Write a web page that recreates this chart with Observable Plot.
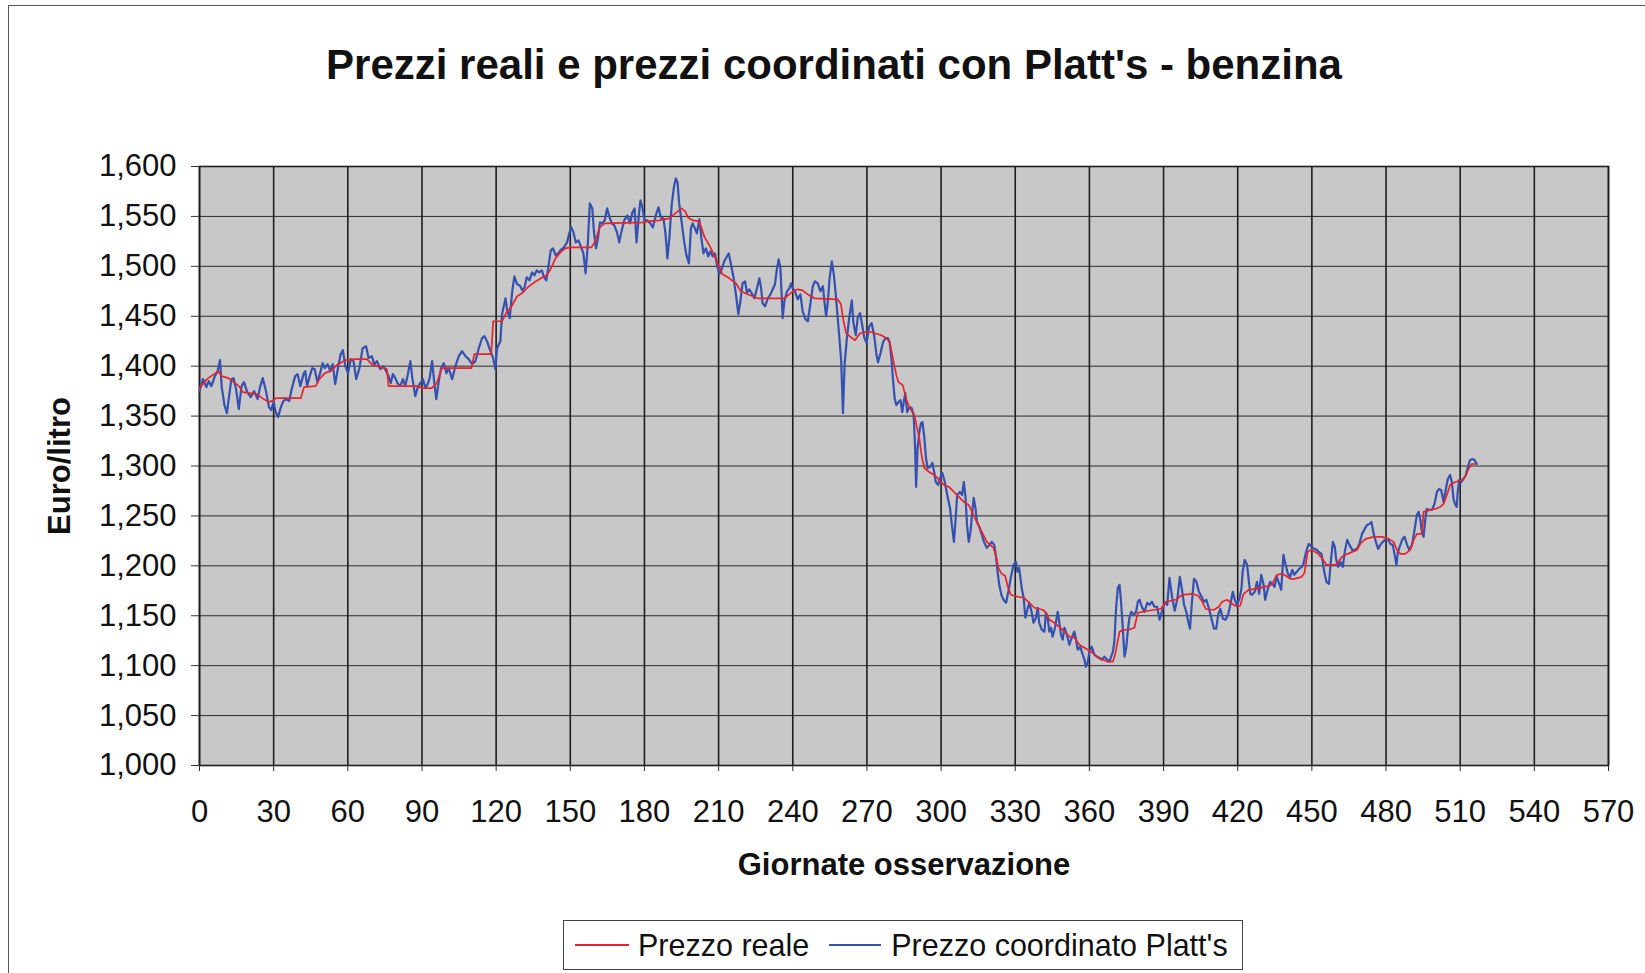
<!DOCTYPE html>
<html>
<head>
<meta charset="utf-8">
<script src="https://cdn.jsdelivr.net/npm/d3@7"></script>
<script src="https://cdn.jsdelivr.net/npm/@observablehq/plot@0.6"></script>
<style>
  html, body { margin: 0; padding: 0; background: #fff; }
  #page { position: relative; width: 1645px; height: 973px; overflow: hidden; font-family: "Liberation Sans", Arial, sans-serif; color: #111; }
  #border { position: absolute; left: 8px; top: 5px; width: 1700px; height: 1000px; border: 1.5px solid #555; box-sizing: border-box; }
  #title { position: relative; width: 1668px; height: 120px; line-height: 130px; text-align: center; font-weight: bold; font-size: 42px; }
  #chart { position: relative; height: 780px; }
  #legend { position: relative; margin-top: 20px; margin-left: 563px; width: 680px; height: 50px; box-sizing: border-box; border: 1.5px solid #444; display: flex; align-items: center; font-size: 30.5px; background: #fff; }
  .sw { display: inline-block; height: 0; }
</style>
</head>
<body>
<div id="page">
  <div id="border"></div>
  <div id="title">Prezzi reali e prezzi coordinati con Platt's - benzina</div>
  <div id="chart"></div>
  <div id="legend">
    <span class="sw" style="margin-left:11px;width:54px;border-top:2px solid #e8232e;"></span>
    <span style="margin-left:9px;">Prezzo reale</span>
    <span class="sw" style="margin-left:20px;width:52px;border-top:2px solid #3551b0;"></span>
    <span style="margin-left:10px;">Prezzo coordinato Platt's</span>
  </div>
</div>
<script>
// Tick values
const xTicks = [0, 30, 60, 90, 120, 150, 180, 210, 240, 270, 300, 330, 360, 390, 420, 450, 480, 510, 540, 570];
const yTicks = [1.000, 1.050, 1.100, 1.150, 1.200, 1.250, 1.300, 1.350, 1.400, 1.450, 1.500, 1.550, 1.600];

// Series: Prezzo reale (red)
const realDays = [0,3,7.6,9,11.7,16,17.5,23,26,28,30,31,41,42.3,47,48.5,50.7,53,56,59,63,67.7,69.7,71.8,75.8,76.5,88,90,94,96,98,110,111.2,118,118.8,122.4,124.4,125.8,128.5,131,132.8,135.5,138.8,140.5,142,144,146,148,150,158.6,160,161.9,163.9,179.7,181,186,190,193,195,196.5,197.6,199.6,202.2,204.2,206.9,209.6,211.6,214.3,217,219,221.8,225.8,236.6,238.6,240,242,244,246,248.8,258.2,259.5,260.3,261.6,263,265.2,267.2,269.2,271.9,275.9,277.9,279.2,280.5,281.9,282.8,284.5,285.2,286.3,287.9,289.2,290.3,291.2,292.1,293.2,295.2,297.2,298.5,299.9,301.2,303.2,305.2,307.2,309.2,311.2,312.5,314.5,316.5,318.5,321.2,322.3,323.2,324.5,325.9,327,328.2,331,333.6,335.7,337.7,341.1,342.5,343.8,345.8,347.8,349.9,351.9,353.9,356,358,360.7,362.5,363.4,365.4,367.4,369.5,370.4,372.2,373.5,376,378.2,379.6,381.6,386.3,389,390.9,395,397.6,401.7,404,405.7,407,408.4,410.4,412.4,413.7,415.7,417.7,419.7,421,422.4,424.4,427.1,431.1,433.8,435.8,437.8,439.5,441.2,443,445.9,447,448.3,449.9,452.6,454.6,455.9,459.6,461,462.2,464.5,466.3,468.3,469.6,471.7,475,478.4,481,483.1,484.4,485.8,487.8,489.8,491.2,492.5,494.5,495.2,497.9,499.9,501.9,503.3,504.6,505.9,508,510.7,512,513.4,514.7,516];
const realPrices = [1.378,1.387,1.395,1.390,1.388,1.380,1.374,1.372,1.367,1.364,1.366,1.368,1.368,1.379,1.380,1.387,1.393,1.395,1.402,1.406,1.407,1.407,1.402,1.400,1.397,1.380,1.380,1.378,1.378,1.383,1.398,1.398,1.412,1.412,1.445,1.445,1.455,1.458,1.470,1.474,1.479,1.484,1.489,1.491,1.497,1.508,1.514,1.518,1.519,1.519,1.525,1.539,1.543,1.544,1.545,1.546,1.548,1.554,1.558,1.555,1.549,1.546,1.545,1.530,1.518,1.503,1.492,1.488,1.483,1.475,1.472,1.468,1.468,1.472,1.475,1.477,1.476,1.472,1.468,1.467,1.462,1.448,1.433,1.430,1.426,1.433,1.434,1.434,1.431,1.428,1.424,1.408,1.391,1.384,1.381,1.374,1.364,1.356,1.351,1.338,1.328,1.311,1.298,1.294,1.291,1.288,1.284,1.281,1.279,1.274,1.269,1.264,1.261,1.254,1.244,1.234,1.224,1.218,1.209,1.198,1.192,1.190,1.179,1.171,1.169,1.168,1.163,1.158,1.156,1.153,1.146,1.143,1.139,1.134,1.129,1.128,1.121,1.118,1.114,1.110,1.108,1.106,1.104,1.104,1.111,1.134,1.136,1.136,1.138,1.153,1.154,1.156,1.157,1.164,1.166,1.171,1.172,1.170,1.164,1.157,1.156,1.156,1.159,1.164,1.166,1.162,1.159,1.160,1.172,1.176,1.177,1.179,1.181,1.191,1.192,1.190,1.187,1.187,1.189,1.193,1.214,1.216,1.212,1.206,1.201,1.201,1.205,1.209,1.212,1.214,1.216,1.222,1.227,1.229,1.229,1.227,1.224,1.216,1.212,1.212,1.216,1.226,1.232,1.232,1.254,1.256,1.257,1.259,1.262,1.271,1.281,1.284,1.286,1.289,1.297,1.302,1.302];

// Series: Prezzo coordinato Platt's (blue)
const plattDays = [0,1.4,2.8,3.7,4.8,6.2,7.3,8.3,9,10.1,11.1,11.7,12.9,13.8,14.8,15.9,17,18,19.3,20.7,22.1,23.5,24.5,25.6,26.9,28.1,29,30,30.8,31.8,32.8,33.9,35,36.3,37.3,38.7,39.7,40.8,42.2,42.8,43.5,44.6,45.6,46.6,47.7,48.8,49.8,50.7,51.8,52.9,53.9,54.9,56,57.1,58,59,60.1,61.2,62.3,63.4,64.7,66,67.4,68.4,69.7,70.7,71.8,73.1,74.5,75.5,76.5,77.4,78.2,79.2,80.1,81.2,82.3,83.2,84.3,85.3,86.1,87.3,88.2,89.3,90.4,91.4,92.3,93.1,94.1,95,95.8,96.8,97.7,98.8,99.9,100.8,102.2,103.5,104.9,106.2,107.6,108.9,110.3,111.6,113,114.3,115.3,116.3,117.7,118.8,119.7,120.4,121.7,122.4,123.8,124.4,125.5,126.5,127.4,128.5,129.5,130.6,131.5,132.4,133.5,134.5,135.5,136.4,137.4,138.5,139.4,140.3,141.1,142.1,143,144.1,145.1,146,147.4,148.7,149.6,150.4,151.3,152.2,153.3,154.4,155.3,156.2,157,157.9,158.9,159.6,160.4,161.2,162,162.8,163.9,164.9,165.9,166.8,167.8,168.9,169.8,170.8,171.8,173.1,174.2,175.1,176,176.8,177.8,178.4,179.2,180,181.1,182.4,183.4,184.8,185.7,186.6,187.7,188.5,189.3,190.1,191,191.9,192.7,193.4,194,195,196,196.9,198,198.8,199.5,200.4,201.2,202.2,203.1,203.9,204.9,205.8,206.6,207.6,208.5,209.3,210.3,211.2,212.3,213.4,214.1,215,216.1,217,218,218.8,219.7,220.7,221.5,222.4,223.4,224.5,225.5,226.5,227.2,227.8,228.8,229.9,231,231.9,232.8,233.6,234.3,235,235.5,235.9,236.6,237.7,238.6,239.3,240,240.9,242,243.1,244,245.1,246.1,247.1,248.1,249,250.1,251.2,252.2,252.8,253.5,254.2,254.9,255.8,256.6,257.4,258.2,259.6,260.3,261,261.9,262.8,263.9,264.5,265.5,266.3,267.2,268.1,268.9,269.9,270.8,271.9,272.9,273.9,274.5,275.6,276.5,277.5,278.5,279.2,279.9,280.5,281.2,281.9,282.8,283.6,284.3,284.9,285.5,286.3,287.2,288.1,288.9,289.5,289.9,290.5,291.2,291.9,292.5,293.2,293.9,294.5,295.6,296.5,297.2,297.9,298.8,299.6,300.5,301.5,302.5,303.6,304.5,305.2,305.9,306.5,307.6,308.5,309.2,309.9,310.5,311.2,311.9,312.5,313.2,313.9,314.5,315.6,316.5,317.5,318.5,319.6,320.5,321.5,322.3,322.8,323.6,324.5,325.5,326.3,327.2,328.2,329.3,330.3,330.9,331.6,332.6,333.4,334.1,334.7,335.7,336.6,337.4,338.4,339.1,339.7,340.7,341.8,342.4,343.1,343.8,344.5,345.1,346.1,347.2,347.8,348.5,349.2,349.9,350.9,351.9,352.8,353.9,354.6,355.3,356.3,357.3,358,358.6,359.3,360,360.9,362,363.1,364,365,366.1,367.2,368.1,368.8,369.5,370.1,370.8,371.5,372.2,372.8,373.5,374.2,374.9,375.5,376.2,376.9,378,378.9,379.6,380.3,381.2,382.3,383.4,384.3,385.3,386.3,387.4,388.4,389.3,390.4,391.5,392.4,393.5,394.5,395.6,396.6,397.4,398.3,399.2,400,400.7,401.4,402.3,403.3,404.3,405.4,406.3,407.3,408.4,409.4,410.4,411.3,412.1,413,414,415.1,416.1,417.1,418,418.8,419.7,420.7,421.5,422,422.8,423.8,424.4,425.1,425.8,426.9,427.8,428.7,429.5,430.5,431.1,432.2,433.1,434.1,434.9,435.8,436.8,437.6,438.5,439.4,440.3,441.2,442.1,442.9,443.9,444.8,445.9,446.5,447.2,447.9,448.8,449.9,451,451.9,452.8,453.9,455,455.9,456.9,457.7,458.5,459.3,459.8,460.6,461.6,462.5,463.3,464.3,465.2,466.3,467.4,468.3,469.2,470.3,471.4,472.3,473.3,474.1,475,475.9,476.8,477.7,478.7,479.7,480.8,481.7,482.7,483.5,484.2,484.8,485.8,486.7,487.5,488.5,489.4,490.5,491.6,492.5,493.2,493.9,494.5,495.2,495.9,496.5,497.5,498.6,499.6,500.6,501.5,502.3,503.3,504.2,505,505.9,506.6,507.3,507.9,508.6,509,509.6,510.4,511.3,512.3,513.1,514,515,515.8,516.7];
const plattPrices = [1.375,1.387,1.379,1.385,1.380,1.390,1.395,1.406,1.379,1.361,1.353,1.365,1.387,1.388,1.377,1.357,1.380,1.384,1.374,1.369,1.375,1.367,1.379,1.388,1.375,1.359,1.356,1.364,1.354,1.349,1.358,1.365,1.367,1.365,1.377,1.390,1.392,1.380,1.393,1.395,1.380,1.390,1.398,1.397,1.384,1.393,1.403,1.398,1.402,1.395,1.402,1.382,1.398,1.412,1.416,1.400,1.393,1.407,1.405,1.387,1.398,1.418,1.420,1.408,1.410,1.402,1.405,1.397,1.400,1.395,1.390,1.383,1.392,1.388,1.383,1.380,1.387,1.380,1.392,1.405,1.388,1.370,1.378,1.383,1.387,1.378,1.382,1.388,1.405,1.383,1.367,1.385,1.398,1.403,1.393,1.398,1.387,1.400,1.410,1.415,1.410,1.407,1.402,1.405,1.418,1.428,1.430,1.425,1.415,1.408,1.397,1.418,1.425,1.452,1.468,1.457,1.448,1.475,1.490,1.482,1.481,1.476,1.479,1.489,1.486,1.494,1.491,1.496,1.494,1.496,1.489,1.486,1.499,1.516,1.518,1.511,1.513,1.516,1.519,1.524,1.533,1.539,1.534,1.524,1.526,1.519,1.513,1.493,1.519,1.563,1.558,1.534,1.518,1.528,1.544,1.543,1.546,1.558,1.549,1.543,1.541,1.534,1.524,1.536,1.546,1.551,1.543,1.554,1.558,1.524,1.553,1.566,1.559,1.546,1.546,1.543,1.539,1.553,1.559,1.549,1.548,1.533,1.508,1.529,1.561,1.579,1.588,1.584,1.564,1.545,1.526,1.512,1.503,1.538,1.543,1.538,1.533,1.547,1.527,1.513,1.518,1.510,1.515,1.510,1.513,1.502,1.492,1.497,1.505,1.510,1.513,1.502,1.488,1.472,1.452,1.465,1.483,1.485,1.473,1.477,1.473,1.468,1.478,1.488,1.478,1.463,1.460,1.468,1.472,1.477,1.482,1.498,1.507,1.498,1.472,1.448,1.465,1.475,1.478,1.483,1.478,1.475,1.467,1.472,1.455,1.447,1.445,1.462,1.480,1.485,1.483,1.475,1.480,1.465,1.450,1.465,1.488,1.505,1.492,1.472,1.448,1.405,1.353,1.403,1.428,1.448,1.466,1.444,1.431,1.449,1.453,1.441,1.429,1.423,1.439,1.443,1.431,1.411,1.404,1.414,1.424,1.428,1.428,1.424,1.408,1.388,1.368,1.361,1.364,1.366,1.354,1.364,1.373,1.354,1.359,1.358,1.351,1.318,1.279,1.318,1.334,1.343,1.344,1.329,1.308,1.298,1.299,1.303,1.294,1.284,1.281,1.288,1.293,1.284,1.271,1.258,1.238,1.224,1.248,1.271,1.274,1.271,1.284,1.268,1.241,1.224,1.234,1.251,1.268,1.258,1.244,1.238,1.231,1.223,1.218,1.221,1.224,1.221,1.208,1.195,1.180,1.170,1.165,1.163,1.174,1.188,1.201,1.204,1.194,1.198,1.178,1.168,1.148,1.154,1.163,1.154,1.143,1.148,1.158,1.143,1.136,1.134,1.153,1.148,1.134,1.138,1.129,1.138,1.154,1.144,1.131,1.126,1.138,1.131,1.121,1.128,1.134,1.126,1.116,1.119,1.111,1.106,1.099,1.103,1.114,1.119,1.111,1.109,1.108,1.106,1.109,1.106,1.104,1.109,1.114,1.124,1.158,1.178,1.181,1.164,1.138,1.109,1.118,1.134,1.148,1.154,1.151,1.154,1.164,1.166,1.159,1.154,1.163,1.161,1.164,1.159,1.159,1.146,1.154,1.163,1.161,1.188,1.168,1.155,1.167,1.189,1.177,1.161,1.154,1.144,1.137,1.161,1.187,1.184,1.174,1.169,1.164,1.166,1.157,1.147,1.137,1.137,1.151,1.157,1.147,1.146,1.151,1.162,1.174,1.166,1.161,1.167,1.177,1.194,1.206,1.201,1.187,1.172,1.171,1.174,1.184,1.172,1.191,1.181,1.166,1.177,1.184,1.182,1.179,1.189,1.182,1.176,1.211,1.201,1.192,1.189,1.196,1.191,1.194,1.197,1.199,1.201,1.209,1.216,1.222,1.219,1.217,1.216,1.214,1.212,1.194,1.184,1.182,1.205,1.224,1.219,1.207,1.199,1.204,1.199,1.214,1.226,1.221,1.216,1.216,1.217,1.222,1.232,1.237,1.241,1.242,1.244,1.232,1.224,1.217,1.221,1.224,1.226,1.227,1.222,1.221,1.211,1.201,1.214,1.221,1.227,1.229,1.221,1.216,1.221,1.237,1.251,1.254,1.246,1.234,1.229,1.247,1.257,1.256,1.256,1.262,1.274,1.277,1.276,1.264,1.277,1.287,1.291,1.284,1.267,1.262,1.259,1.274,1.286,1.284,1.287,1.291,1.299,1.306,1.307,1.306,1.302];

const real = realDays.map((d, i) => ({day: d, price: realPrices[i]}));
const platt = plattDays.map((d, i) => ({day: d, price: plattPrices[i]}));

const fmt = v => v.toFixed(3).replace(".", ",");

const chart = Plot.plot({
  width: 1645,
  height: 780,
  marginLeft: 199,
  marginRight: 37,
  marginTop: 46,
  marginBottom: 135,
  style: {fontFamily: "'Liberation Sans', Arial, sans-serif", background: "transparent", color: "#111"},
  x: {domain: [0, 570]},
  y: {domain: [1.0, 1.6]},
  marks: [
    Plot.frame({fill: "#c8c8c8", stroke: null}),
    Plot.ruleY(yTicks, {stroke: "#2a2a2a", strokeWidth: 1}),
    Plot.ruleX(xTicks, {stroke: "#1e1e1e", strokeWidth: 1.6}),
    Plot.frame({stroke: "#1e1e1e", strokeWidth: 1.6}),
    Plot.axisY({ticks: yTicks, tickFormat: fmt, tickSize: 8, tickPadding: 15, fontSize: 31, label: null, stroke: "#333"}),
    Plot.axisX({ticks: xTicks, tickFormat: d => String(d), tickSize: 6, tickPadding: 28, fontSize: 31, label: null, stroke: "#333"}),
    Plot.line(platt, {x: "day", y: "price", stroke: "#3551b0", strokeWidth: 2.2, curve: "linear"}),
    Plot.line(real, {x: "day", y: "price", stroke: "#e8232e", strokeWidth: 1.7, curve: "linear"}),
    Plot.text(["Euro/litro"], {frameAnchor: "left", dx: -139, rotate: -90, textAnchor: "middle", lineAnchor: "middle", fontWeight: "bold", fontSize: 31, fill: "#111"}),
    Plot.text(["Giornate osservazione"], {frameAnchor: "bottom", dy: 100, textAnchor: "middle", lineAnchor: "middle", fontWeight: "bold", fontSize: 31, fill: "#111"})
  ]
});
document.getElementById("chart").appendChild(chart);
</script>
</body>
</html>
